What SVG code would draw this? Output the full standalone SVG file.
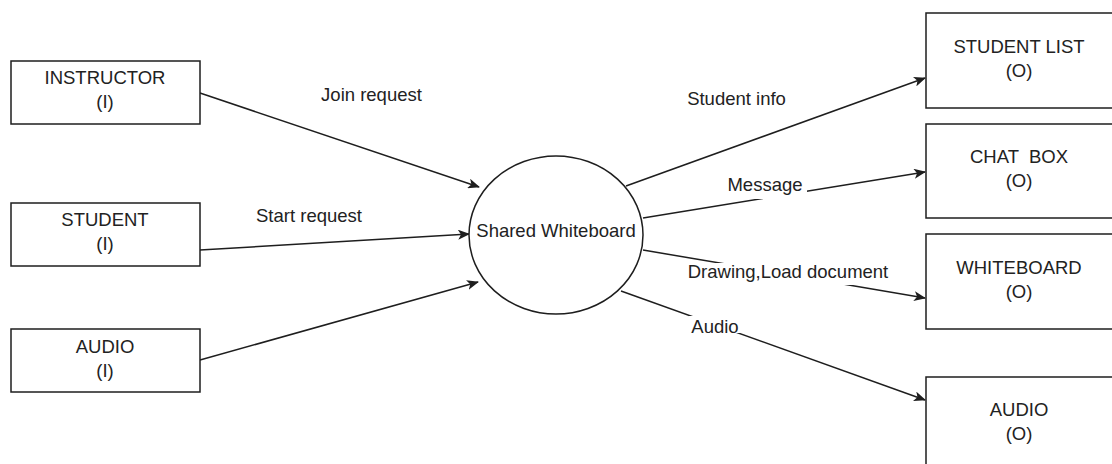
<svg xmlns="http://www.w3.org/2000/svg" width="1112" height="464" viewBox="0 0 1112 464">
<style>
.box{fill:#fff;stroke:#1e1e1e;stroke-width:1.5}
.t{font-family:"Liberation Sans",Arial,sans-serif;font-size:18.5px;fill:#222;text-anchor:middle}
.edge{fill:none;stroke:#1e1e1e;stroke-width:1.5}
.bg{fill:#fff}
</style>
<defs>
<marker id="arr" viewBox="0 0 12 10" refX="11" refY="5" markerWidth="12" markerHeight="10" markerUnits="userSpaceOnUse" orient="auto">
<path d="M0,0 L12,5 L0,10 L3,5 z" fill="#1e1e1e"/>
</marker>
</defs>
<rect width="1112" height="464" fill="#fff"/>
<g id="connectors">
<line class="edge" x1="200" y1="93" x2="479" y2="187" marker-end="url(#arr)"/>
<line class="edge" x1="200" y1="250" x2="469" y2="234" marker-end="url(#arr)"/>
<line class="edge" x1="200" y1="360" x2="478" y2="282" marker-end="url(#arr)"/>
<line class="edge" x1="626" y1="186" x2="925" y2="78" marker-end="url(#arr)"/>
<line class="edge" x1="643" y1="218" x2="925" y2="172" marker-end="url(#arr)"/>
<line class="edge" x1="643" y1="250" x2="925" y2="298" marker-end="url(#arr)"/>
<line class="edge" x1="621" y1="291" x2="925" y2="400" marker-end="url(#arr)"/>
<rect class="bg" x="725" y="178" width="82" height="21"/>
<rect class="bg" x="681" y="263" width="214" height="22"/>
<rect class="bg" x="689" y="316" width="52" height="17"/>
<text class="t" x="371.5" y="101">Join request</text>
<text class="t" x="309" y="222">Start request</text>
<text class="t" x="736.5" y="105">Student info</text>
<text class="t" x="765" y="191">Message</text>
<text class="t" x="788" y="278">Drawing,Load document</text>
<text class="t" x="715" y="333">Audio</text>
</g>
<g id="instructor">
<rect class="box" x="11" y="61" width="189" height="63"/>
<text class="t" x="105" y="84">INSTRUCTOR</text>
<text class="t" x="105" y="108">(I)</text>
</g>
<g id="student">
<rect class="box" x="11" y="203" width="189" height="63"/>
<text class="t" x="105" y="226">STUDENT</text>
<text class="t" x="105" y="250">(I)</text>
</g>
<g id="audio-in">
<rect class="box" x="11" y="329" width="189" height="63"/>
<text class="t" x="105" y="353">AUDIO</text>
<text class="t" x="105" y="377">(I)</text>
</g>
<g id="shared-whiteboard">
<ellipse class="box" cx="556" cy="235" rx="87" ry="79"/>
<text class="t" x="556" y="237">Shared Whiteboard</text>
</g>
<g id="student-list">
<rect class="box" x="926" y="13" width="200" height="95"/>
<text class="t" x="1019" y="53">STUDENT LIST</text>
<text class="t" x="1019" y="77">(O)</text>
</g>
<g id="chat-box">
<rect class="box" x="926" y="124" width="200" height="94"/>
<text class="t" x="1019" y="163" xml:space="preserve">CHAT  BOX</text>
<text class="t" x="1019" y="187">(O)</text>
</g>
<g id="whiteboard">
<rect class="box" x="926" y="234" width="200" height="95"/>
<text class="t" x="1019" y="274">WHITEBOARD</text>
<text class="t" x="1019" y="298">(O)</text>
</g>
<g id="audio-out">
<rect class="box" x="926" y="377" width="200" height="100"/>
<text class="t" x="1019" y="416">AUDIO</text>
<text class="t" x="1019" y="440">(O)</text>
</g>
</svg>
